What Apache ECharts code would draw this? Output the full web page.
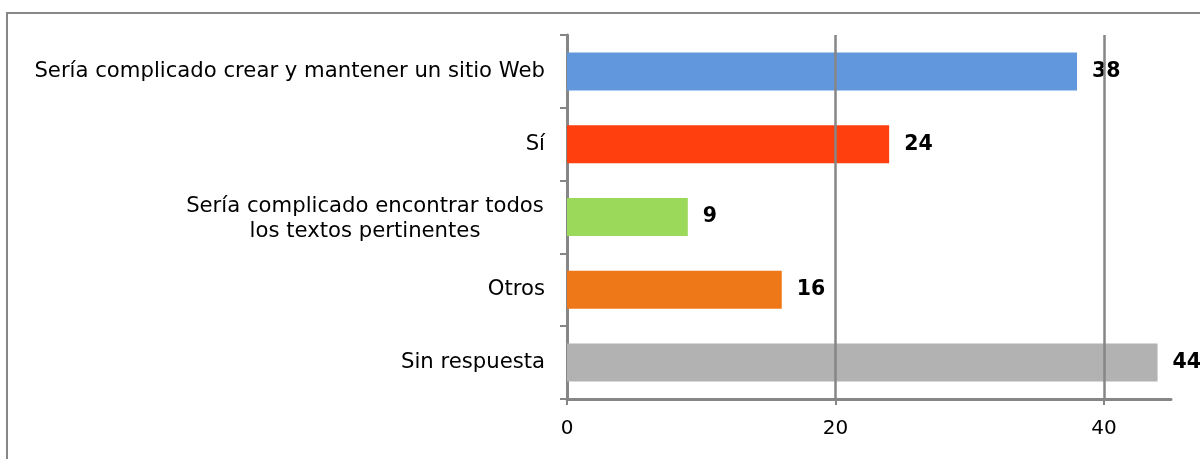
<!DOCTYPE html>
<html>
<head>
<meta charset="utf-8">
<script src="https://cdn.jsdelivr.net/npm/echarts@6/dist/echarts.min.js"></script>
<style>
  html, body { margin: 0; padding: 0; background: #fff; }
  .frame {
    position: absolute; left: 6px; top: 12px; width: 1220px; height: 470px;
    border-left: 2px solid #878787; border-top: 2px solid #878787;
  }
  #chart { position: absolute; left: 0; top: 0; width: 1200px; height: 459px; }
</style>
</head>
<body>
<div class="frame"></div>
<div id="chart"></div>
<script>
// datos
const categories = [
  'Sería complicado crear y mantener un sitio Web',
  'Sí',
  'Sería complicado encontrar todos\nlos textos pertinentes',
  'Otros',
  'Sin respuesta'
]
const values = [38, 24, 9, 16, 44]
const barColors = ['#6197DD', '#FF3F0D', '#9BD95A', '#EE7718', '#B2B2B2']
const xTicks = [0, 20, 40]
const gridLines = [20, 40]

const axisGray = '#868686'
const chart = echarts.init(document.getElementById('chart'))

chart.setOption({
  animation: false,
  grid: { left: 567, right: 29, top: 35, bottom: 60 },
  xAxis: {
    type: 'value',
    min: 0,
    max: 45,
    interval: 20,
    axisLine: { show: true, lineStyle: { color: axisGray, width: 3 } },
    axisTick: { show: true, length: 6, customValues: xTicks, lineStyle: { color: axisGray, width: 2 } },
    axisLabel: {
      customValues: xTicks,
      color: '#000',
      fontFamily: 'DejaVu Sans',
      fontSize: 20,
      margin: 20
    },
    splitLine: { show: false }
  },
  yAxis: {
    type: 'category',
    inverse: true,
    data: categories,
    axisLine: { show: true, lineStyle: { color: axisGray, width: 3 } },
    axisTick: { show: true, length: 7, lineStyle: { color: axisGray, width: 2 } },
    axisLabel: {
      color: '#000',
      fontFamily: 'DejaVu Sans',
      fontSize: 21.2,
      margin: 22,
      lineHeight: 25,
      formatter: (v) => {
        if (v.indexOf('\n') < 0) return v
        return v.split('\n').map(s => '{c|' + s + '}').join('\n')
      },
      rich: {
        c: { width: 360, align: 'center', fontFamily: 'DejaVu Sans', fontSize: 21.2, lineHeight: 25, color: '#000', padding: [4, 0, 0, 0] }
      }
    }
  },
  series: [
    {
      type: 'bar',
      barWidth: 38,
      data: values.map((v, i) => ({ value: v, itemStyle: { color: barColors[i] } })),
      label: {
        show: true,
        position: 'right',
        distance: 15,
        color: '#000',
        fontFamily: 'DejaVu Sans',
        fontWeight: 'bold',
        fontSize: 20.5
      },
      markLine: {
        silent: true,
        symbol: 'none',
        label: { show: false },
        lineStyle: { color: axisGray, width: 2.5, type: 'solid' },
        data: gridLines.map(v => ({ xAxis: v }))
      },
      z: 3
    }
  ]
})
</script>
</body>
</html>
